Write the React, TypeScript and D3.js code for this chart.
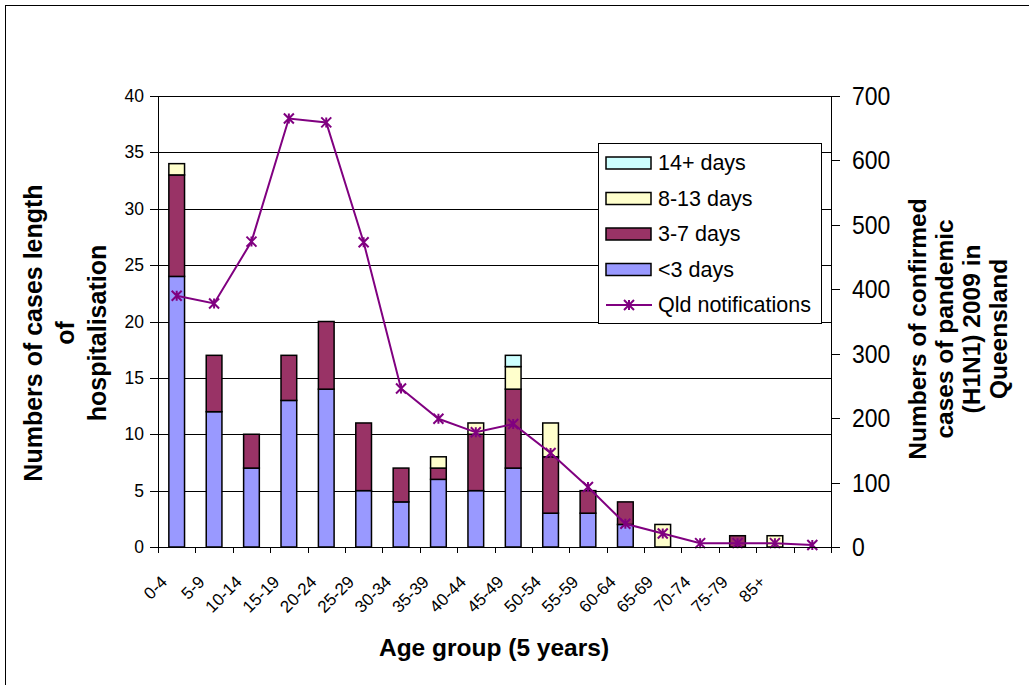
import React from "react";
import * as d3 from "d3";

// Age groups (the 80-84 slot carries no label in the source axis)
const ageGroups = [
  "0-4", "5-9", "10-14", "15-19", "20-24", "25-29", "30-34", "35-39", "40-44",
  "45-49", "50-54", "55-59", "60-64", "65-69", "70-74", "75-79", "85+", "",
];

// Hospitalised cases by length of stay
const lessThan3Days = [24, 12, 7, 13, 14, 5, 4, 6, 5, 7, 3, 3, 2, 0, 0, 0, 0, 0];
const days3to7 = [9, 5, 3, 4, 6, 6, 3, 1, 5, 7, 5, 2, 2, 0, 0, 1, 0, 0];
const days8to13 = [1, 0, 0, 0, 0, 0, 0, 1, 1, 2, 3, 0, 0, 2, 0, 0, 1, 0];
const days14plus = [0, 0, 0, 0, 0, 0, 0, 0, 0, 1, 0, 0, 0, 0, 0, 0, 0, 0];

// Confirmed pandemic (H1N1) 2009 notifications in Queensland
const qldNotifications = [390, 378, 474, 665, 659, 473, 246, 199, 178, 191, 146, 93, 36, 21, 6, 6, 6, 3];

const leftTicks = [0, 5, 10, 15, 20, 25, 30, 35, 40];
const rightTicks = [0, 100, 200, 300, 400, 500, 600, 700];

const seriesNames = ["<3 days", "3-7 days", "8-13 days", "14+ days"];
const seriesColors = ["#9999FF", "#993366", "#FFFFCC", "#CCFFFF"];
const lineColor = "#800080";

const FONT = "'Liberation Sans', Arial, Helvetica, sans-serif";

const W = 1029;
const H = 685;
const plot = { left: 158, right: 831, top: 96, bottom: 547 };

function starPath(s: number) {
  return `M0,${-s}L0,${s}M${-s},${-s}L${s},${s}M${-s},${s}L${s},${-s}`;
}

export default function App() {
  const x = d3
    .scaleBand<string>()
    .domain(ageGroups.map((_, i) => String(i)))
    .range([plot.left, plot.right])
    .padding(0);
  const bw = x.bandwidth();
  const barW = bw * 0.42;
  const yL = d3.scaleLinear().domain([0, 40]).range([plot.bottom, plot.top]);
  const yR = d3.scaleLinear().domain([0, 700]).range([plot.bottom, plot.top]);

  const rows = ageGroups.map((_, i) => ({
    i: String(i),
    s0: lessThan3Days[i],
    s1: days3to7[i],
    s2: days8to13[i],
    s3: days14plus[i],
  }));
  const stack = d3.stack<any>().keys(["s0", "s1", "s2", "s3"])(rows);

  const cx = (i: number) => (x(String(i)) as number) + bw / 2;

  const line = d3
    .line<number>()
    .x((_, i) => cx(i))
    .y((d) => yR(d));

  const legendItems = [
    { name: seriesNames[3], color: seriesColors[3] },
    { name: seriesNames[2], color: seriesColors[2] },
    { name: seriesNames[1], color: seriesColors[1] },
    { name: seriesNames[0], color: seriesColors[0] },
  ];
  const legendRowY = (k: number) => 163 + k * 35.5;

  return (
    <svg
      width={W}
      height={H}
      style={{ position: "absolute", left: 0, top: 0, background: "#fff" }}
      fontFamily={FONT}
    >
      {/* chart frame */}
      <rect x={5.5} y={5.5} width={W + 10} height={H + 10} fill="#fff" stroke="#000" strokeWidth={1} />

      {/* gridlines */}
      {leftTicks.slice(1).map((t) => (
        <line
          key={"g" + t}
          x1={plot.left}
          x2={plot.right}
          y1={Math.round(yL(t)) + 0.5}
          y2={Math.round(yL(t)) + 0.5}
          stroke="#000"
          strokeWidth={1}
        />
      ))}

      {/* stacked bars */}
      {stack.map((layer, li) => (
        <g key={"layer" + li}>
          {layer.map((d, i) =>
            d[1] - d[0] > 0 ? (
              <rect
                key={i}
                x={cx(i) - barW / 2}
                y={yL(d[1])}
                width={barW}
                height={yL(d[0]) - yL(d[1])}
                fill={seriesColors[li]}
                stroke="#000"
                strokeWidth={1.5}
              />
            ) : null
          )}
        </g>
      ))}

      {/* notifications line */}
      <path d={line(qldNotifications) || ""} fill="none" stroke={lineColor} strokeWidth={2} />
      {qldNotifications.map((v, i) => (
        <path
          key={"m" + i}
          d={starPath(5)}
          transform={`translate(${cx(i)},${yR(v)})`}
          stroke={lineColor}
          strokeWidth={2}
          fill="none"
        />
      ))}

      {/* left axis */}
      <line x1={plot.left + 0.5} x2={plot.left + 0.5} y1={plot.top} y2={plot.bottom + 5} stroke="#000" />
      {leftTicks.map((t) => (
        <g key={"lt" + t}>
          <line
            x1={plot.left - 8}
            x2={plot.left}
            y1={Math.round(yL(t)) + 0.5}
            y2={Math.round(yL(t)) + 0.5}
            stroke="#000"
          />
          <text
            x={plot.left - 14}
            y={yL(t)}
            textAnchor="end"
            dominantBaseline="central"
            fontSize={17.5}
          >
            {t}
          </text>
        </g>
      ))}

      {/* right axis */}
      <line x1={plot.right + 0.5} x2={plot.right + 0.5} y1={plot.top} y2={plot.bottom + 5} stroke="#000" />
      {rightTicks.map((t) => (
        <g key={"rt" + t}>
          <line
            x1={plot.right}
            x2={plot.right + 9}
            y1={Math.round(yR(t)) + 0.5}
            y2={Math.round(yR(t)) + 0.5}
            stroke="#000"
          />
          <text
            transform={`translate(${plot.right + 21},${yR(t)}) scale(1,1.12)`}
            textAnchor="start"
            dominantBaseline="central"
            fontSize={23}
          >
            {t}
          </text>
        </g>
      ))}

      {/* bottom axis */}
      <line x1={plot.left} x2={plot.right + 1} y1={plot.bottom + 0.5} y2={plot.bottom + 0.5} stroke="#000" />
      {d3.range(ageGroups.length + 1).map((k) => {
        const xx = Math.round(plot.left + k * bw) + 0.5;
        return <line key={"bt" + k} x1={xx} x2={xx} y1={plot.bottom} y2={plot.bottom + 6} stroke="#000" />;
      })}
      {ageGroups.map((g, i) => (
        <text
          key={"xl" + i}
          transform={`translate(${cx(i) - 8.5},${plot.bottom + 36}) rotate(-45)`}
          textAnchor="end"
          fontSize={17}
        >
          {g}
        </text>
      ))}

      {/* axis titles */}
      <text x={494} y={656} textAnchor="middle" fontSize={24.5} fontWeight="bold">
        Age group (5 years)
      </text>
      {["Numbers of cases length", "of", "hospitalisation"].map((s, k) => (
        <text
          key={"ylt" + k}
          transform={`translate(${33 + k * 32},333) rotate(-90)`}
          textAnchor="middle"
          dominantBaseline="central"
          fontSize={25}
          fontWeight="bold"
        >
          {s}
        </text>
      ))}
      {["Numbers of confirmed", "cases of pandemic", "(H1N1) 2009 in", "Queensland"].map((s, k) => (
        <text
          key={"yrt" + k}
          transform={`translate(${917 + k * 27.3},329) rotate(-90)`}
          textAnchor="middle"
          dominantBaseline="central"
          fontSize={24.5}
          fontWeight="bold"
        >
          {s}
        </text>
      ))}

      {/* legend */}
      <rect x={598.5} y={143.5} width={223} height={180} fill="#fff" stroke="#000" strokeWidth={1} />
      {legendItems.map((it, k) => (
        <g key={"lg" + k}>
          <rect
            x={606}
            y={legendRowY(k) - 6}
            width={45}
            height={12}
            fill={it.color}
            stroke="#000"
            strokeWidth={1.5}
          />
          <text x={658} y={legendRowY(k)} dominantBaseline="central" fontSize={21.5}>
            {it.name}
          </text>
        </g>
      ))}
      <line x1={606} x2={652} y1={legendRowY(4)} y2={legendRowY(4)} stroke={lineColor} strokeWidth={2} />
      <path
        d={starPath(5)}
        transform={`translate(629,${legendRowY(4)})`}
        stroke={lineColor}
        strokeWidth={2}
        fill="none"
      />
      <text x={658} y={legendRowY(4)} dominantBaseline="central" fontSize={21.5}>
        Qld notifications
      </text>
    </svg>
  );
}
